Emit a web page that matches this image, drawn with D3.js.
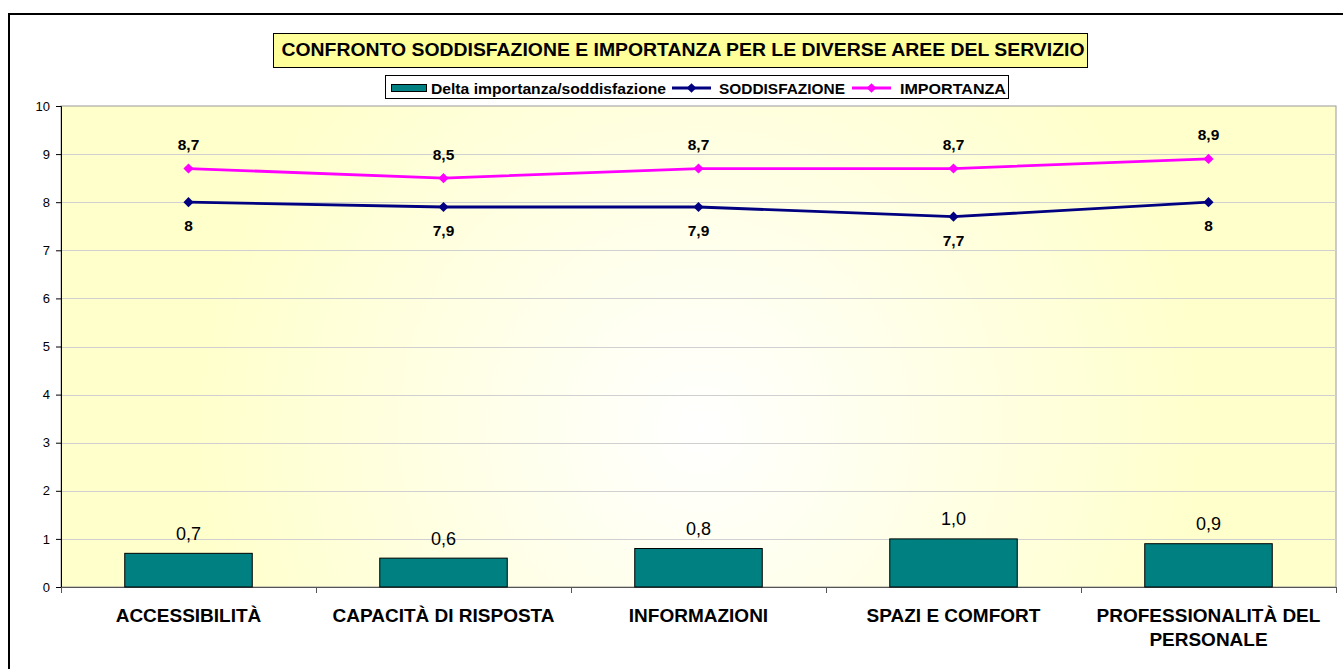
<!DOCTYPE html>
<html><head><meta charset="utf-8">
<script src="https://cdn.jsdelivr.net/npm/d3@7"></script>
<style>
html,body{margin:0;padding:0;background:#fff;}
svg{display:block;font-family:"Liberation Sans",Arial,sans-serif;}
</style></head>
<body>
<svg id="chart" width="1343" height="669"></svg>
<script>
const categories = ["ACCESSIBILITÀ", "CAPACITÀ DI RISPOSTA", "INFORMAZIONI", "SPAZI E COMFORT", "PROFESSIONALITÀ DEL PERSONALE"];
const categoryLines = [["ACCESSIBILITÀ"], ["CAPACITÀ DI RISPOSTA"], ["INFORMAZIONI"], ["SPAZI E COMFORT"], ["PROFESSIONALITÀ DEL", "PERSONALE"]];
const delta = [0.7, 0.6, 0.8, 1.0, 0.9];
const soddisfazione = [8, 7.9, 7.9, 7.7, 8];
const importanza = [8.7, 8.5, 8.7, 8.7, 8.9];
const yTicks = [0,1,2,3,4,5,6,7,8,9,10];
const title = "CONFRONTO SODDISFAZIONE E IMPORTANZA PER LE DIVERSE AREE DEL SERVIZIO";
const legendLabels = ["Delta importanza/soddisfazione", "SODDISFAZIONE", "IMPORTANZA"];

const svg = d3.select("#chart");
const fmt = v => String(v).replace(".", ",");
const fmt1 = v => v.toFixed(1).replace(".", ",");

// outer frame
svg.append("rect").attr("x", 9).attr("y", 14).attr("width", 1345).attr("height", 670)
  .attr("fill", "#fff").attr("stroke", "#000").attr("stroke-width", 2);

const L = 61, R = 1336, T = 106, B = 587;
const x = d3.scaleBand().domain(categories).range([L, R]).paddingInner(0).paddingOuter(0);
const y = d3.scaleLinear().domain([0, 10]).range([B, T]);

// background gradient
const defs = svg.append("defs");
const grad = defs.append("radialGradient").attr("id", "bg")
  .attr("gradientUnits", "userSpaceOnUse")
  .attr("cx", 700).attr("cy", 430).attr("r", 720);
grad.append("stop").attr("offset", "0%").attr("stop-color", "#ffffff");
grad.append("stop").attr("offset", "70%").attr("stop-color", "#ffffcc");
grad.append("stop").attr("offset", "100%").attr("stop-color", "#ffffcc");

svg.append("rect").attr("x", L).attr("y", T).attr("width", R - L).attr("height", B - T)
  .attr("fill", "url(#bg)").attr("stroke", "#999").attr("stroke-width", 1);

// gridlines
svg.append("g").selectAll("line").data(yTicks.filter(d => d > 0 && d < 10)).join("line")
  .attr("x1", L).attr("x2", R).attr("y1", d => Math.round(y(d)) + 0.5).attr("y2", d => Math.round(y(d)) + 0.5)
  .attr("stroke", "#d0d0d0").attr("stroke-width", 1);

// y axis
const yAxis = d3.axisLeft(y).tickValues(yTicks).tickSize(5).tickPadding(6).tickFormat(d => d);
const gy = svg.append("g").attr("transform", `translate(${L},0)`).call(yAxis);
gy.select(".domain").attr("stroke", "#000").attr("stroke-width", 1);
gy.selectAll(".tick line").attr("stroke", "#000");
gy.selectAll(".tick text").attr("font-size", 13).attr("fill", "#000").attr("font-family", "Liberation Sans, Arial, sans-serif");

// x axis line & ticks at boundaries
svg.append("line").attr("x1", L).attr("x2", R).attr("y1", B + 0.5).attr("y2", B + 0.5).attr("stroke", "#555").attr("stroke-width", 1.2);
const bounds = categories.map(c => x(c)).concat([R]);
svg.append("g").selectAll("line").data(bounds).join("line")
  .attr("x1", d => Math.round(d) + 0.5).attr("x2", d => Math.round(d) + 0.5)
  .attr("y1", B).attr("y2", B + 6).attr("stroke", "#555");

// bars
const bw = x.bandwidth() * 0.5;
svg.append("g").selectAll("rect").data(delta).join("rect")
  .attr("x", (d, i) => x(categories[i]) + (x.bandwidth() - bw) / 2)
  .attr("y", d => y(d)).attr("width", bw).attr("height", d => B - y(d))
  .attr("fill", "#008080").attr("stroke", "#000").attr("stroke-width", 1);
svg.append("g").selectAll("text").data(delta).join("text")
  .attr("x", (d, i) => x(categories[i]) + x.bandwidth() / 2)
  .attr("y", d => y(d) - 13.5).attr("text-anchor", "middle")
  .attr("font-size", 18).attr("fill", "#000").text(d => fmt1(d));

// lines
const cx = i => x(categories[i]) + x.bandwidth() / 2;
const line = d3.line().x((d, i) => cx(i)).y(d => y(d));
function series(data, color, labelDy) {
  svg.append("path").datum(data).attr("d", line).attr("fill", "none").attr("stroke", color).attr("stroke-width", 2.8);
  svg.append("g").selectAll("path").data(data).join("path")
    .attr("d", d3.symbol(d3.symbolDiamond2, 66))
    .attr("transform", (d, i) => `translate(${cx(i)},${y(d)})`)
    .attr("fill", color);
  svg.append("g").selectAll("text").data(data).join("text")
    .attr("x", (d, i) => cx(i)).attr("y", d => y(d) + labelDy)
    .attr("text-anchor", "middle").attr("font-size", 15.5).attr("font-weight", "bold")
    .attr("fill", "#000").text(d => fmt(d));
}
series(soddisfazione, "#000080", 29);
series(importanza, "#ff00ff", -18.5);

// category labels
categoryLines.forEach((lines, i) => {
  const t = svg.append("text").attr("x", cx(i)).attr("y", 621.5).attr("text-anchor", "middle")
    .attr("font-size", 19).attr("font-weight", "bold").attr("fill", "#000");
  lines.forEach((ln, j) => t.append("tspan").attr("x", cx(i)).attr("dy", j === 0 ? 0 : 24).text(ln));
});

// title
svg.append("rect").attr("x", 273.5).attr("y", 33.5).attr("width", 814).attr("height", 34)
  .attr("fill", "#ffff99").attr("stroke", "#000").attr("stroke-width", 1);
svg.append("text").attr("x", 281.5).attr("y", 56.3)
  .attr("font-size", 18.5).attr("font-weight", "bold").attr("fill", "#000")
  .attr("textLength", 803).attr("lengthAdjust", "spacingAndGlyphs").text(title);

// legend
const lg = svg.append("g");
lg.append("rect").attr("x", 385.5).attr("y", 75.5).attr("width", 623).attr("height", 23)
  .attr("fill", "#fff").attr("stroke", "#000").attr("stroke-width", 1);
const ly = 88;
lg.append("rect").attr("x", 391.5).attr("y", 84.5).attr("width", 35).attr("height", 7)
  .attr("fill", "#008080").attr("stroke", "#000");
const tbase = 94;
lg.append("text").attr("x", 431).attr("y", tbase).attr("font-size", 15.5).attr("font-weight", "bold")
  .attr("textLength", 235).attr("lengthAdjust", "spacingAndGlyphs").text(legendLabels[0]);
[["#000080", 672, 719, 126, legendLabels[1]], ["#ff00ff", 852, 900, 106, legendLabels[2]]].forEach(([c, x0, tx, tl, lab]) => {
  lg.append("line").attr("x1", x0).attr("x2", x0 + 39).attr("y1", ly).attr("y2", ly).attr("stroke", c).attr("stroke-width", 2.8);
  lg.append("path").attr("d", d3.symbol(d3.symbolDiamond2, 60)).attr("transform", `translate(${x0 + 19.5},${ly})`).attr("fill", c);
  lg.append("text").attr("x", tx).attr("y", tbase).attr("font-size", 15.5).attr("font-weight", "bold")
    .attr("textLength", tl).attr("lengthAdjust", "spacingAndGlyphs").text(lab);
});
</script>
</body></html>
